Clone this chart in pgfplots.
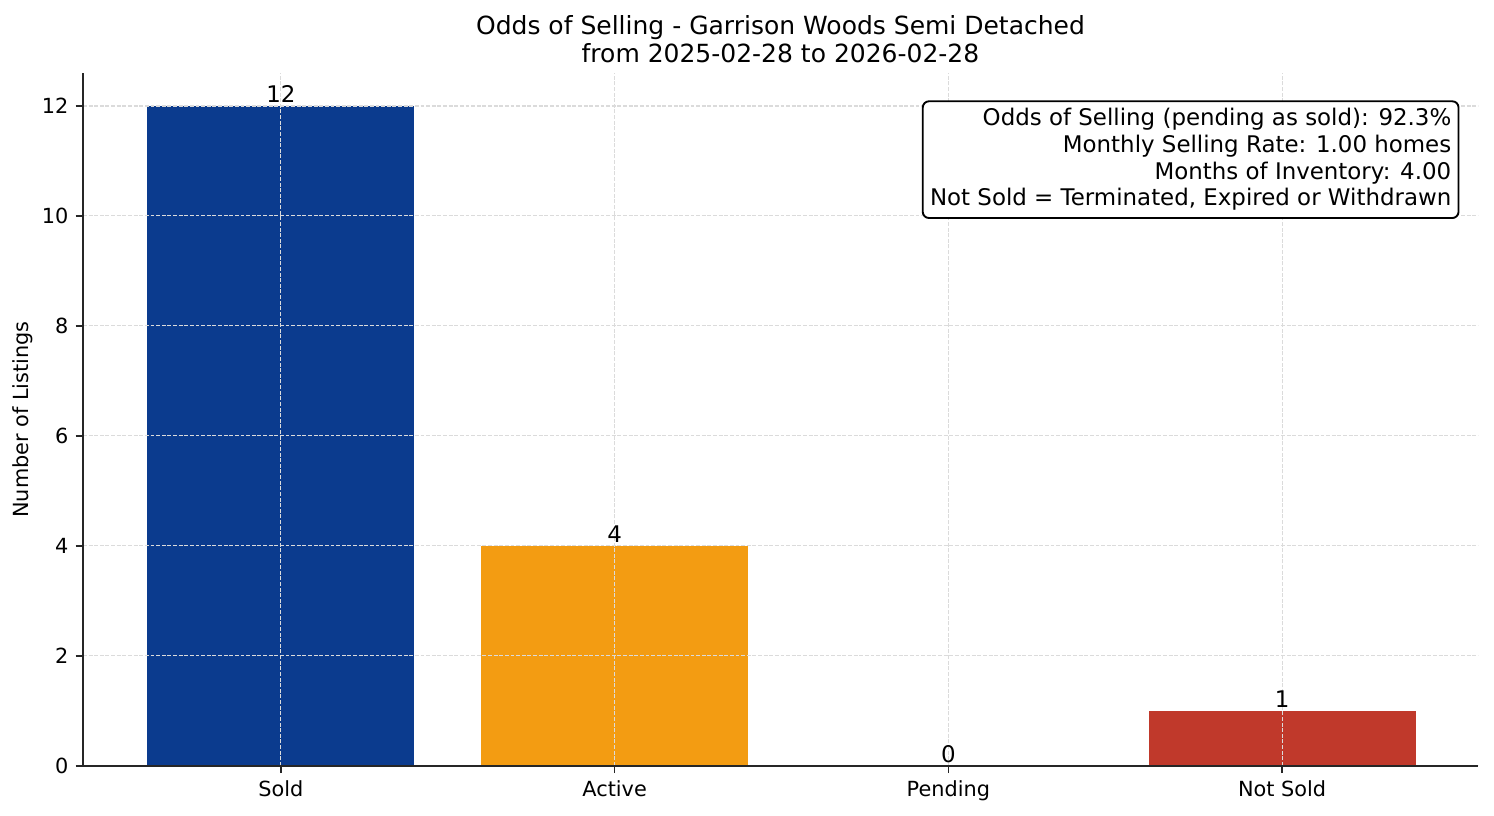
\documentclass[border=0pt]{standalone}
\usepackage{pgfplots}
\pgfplotsset{compat=1.18}
\usepackage{fontspec}
\setmainfont{DejaVu Sans}
\definecolor{soldc}{HTML}{0B3B8E}
\definecolor{activec}{HTML}{F39C12}
\definecolor{pendc}{HTML}{2E86C1}
\definecolor{notc}{HTML}{C0392B}
\begin{document}
\begin{tikzpicture}
\begin{axis}[
  scale only axis, width=669.6pt, height=332.6pt,
  xmin=-0.593, xmax=3.587, ymin=0, ymax=12.6,
  axis x line*=bottom, axis y line*=left,
  xtick={0,1,2,3}, xticklabels={Sold,Active,Pending,Not Sold},
  ytick={0,2,4,6,8,10,12},
  grid=major, grid style={dash pattern=on 1.9pt off 0.8pt, black!14, line width=0.5pt},
  tick align=outside, major tick length=3.5pt,
  tick style={black!85, line width=0.8pt},
  axis line style={black!85, line width=1pt},
  ylabel={Number of Listings},
  ylabel style={font=\fontsize{10}{12}\selectfont, yshift=-2.5pt},
  title={Odds of Selling - Garrison Woods Semi Detached\\from 2025-02-28 to 2026-02-28},
  title style={align=center, font=\fontsize{12}{13.5}\selectfont, yshift=-4.5pt},
  ybar, bar width=0.8, bar shift=0pt,
  axis on top,
  ticklabel style={font=\fontsize{10}{12}\selectfont},
  /pgf/number format/assume math mode=true,
  nodes near coords,
  nodes near coords style={font=\fontsize{11}{13}\selectfont, black, inner sep=1.5pt},
]
\addplot[fill=soldc, draw=none] coordinates {(0,12)};
\addplot[fill=activec, draw=none] coordinates {(1,4)};
\addplot[fill=pendc, draw=none] coordinates {(2,0)};
\addplot[fill=notc, draw=none] coordinates {(3,1)};
\coordinate (boxpos) at (rel axis cs:0.98,0.95);
\end{axis}
\node[anchor=north east, xshift=4.5pt, yshift=3.5pt, draw=black, line width=0.9pt,
  rounded corners=3pt, fill=white, align=right, inner sep=3.5pt,
  font=\fontsize{11}{12.8}\selectfont] at (boxpos)
  {Odds of Selling (pending as sold): 92.3\%\\Monthly Selling Rate: 1.00 homes\\Months of Inventory: 4.00\\Not Sold = Terminated, Expired or Withdrawn};
\pgfresetboundingbox
\path ([shift={(-39.84pt,-24pt)}]current axis.south west) rectangle ([shift={(7.68pt,35.04pt)}]current axis.north east);
\end{tikzpicture}
\end{document}
